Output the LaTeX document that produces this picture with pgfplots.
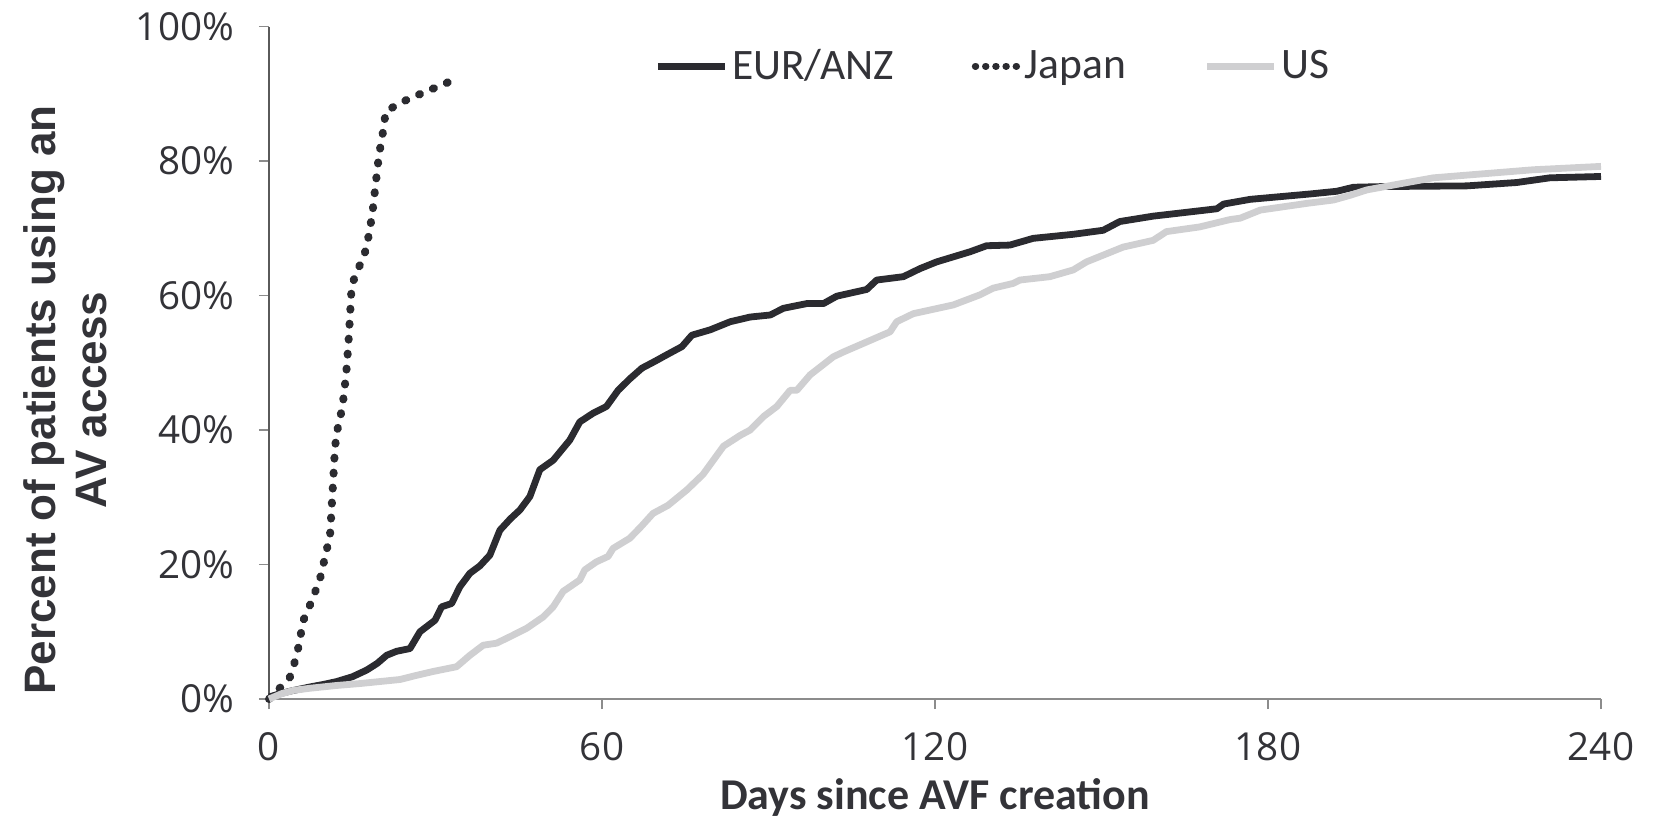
\documentclass[border=0pt]{standalone}
\usepackage{fontspec}
\usepackage{pgfplots}
\pgfplotsset{compat=1.18}
\newfontfamily\tickfont{Open Sans}
\newfontfamily\legfont{Carlito}
\newfontfamily\xlabfont{Carlito}
\newfontfamily\ylabfont{Liberation Sans}
\definecolor{eurcol}{HTML}{2B2B30}
\definecolor{uscol}{HTML}{CFCFD1}
\definecolor{txtcol}{HTML}{333338}
\definecolor{yaxcol}{HTML}{5A5A5A}
\definecolor{xaxcol}{HTML}{8C8C8C}
\begin{document}
\begin{tikzpicture}
\begin{axis}[
  scale only axis,
  width=666pt, height=336.25pt,
  at={(0pt,0pt)}, anchor=south west,
  xmin=0, xmax=240, ymin=0, ymax=100,
  axis x line*=bottom, axis y line*=left,
  x axis line style={color=xaxcol, line width=0.8pt},
  y axis line style={color=yaxcol, line width=0.8pt},
  tick align=outside, major tick length=5pt,
  every tick/.style={color=xaxcol, line width=0.8pt},
  xtick={0,60,120,180,240},
  xticklabels={0,60,120,180,240},
  ytick={0,20,40,60,80,100},
  yticklabels={0\%,20\%,40\%,60\%,80\%,100\%},
  /pgf/number format/assume math mode=true,
  tick label style={font=\tickfont\fontsize{19.3}{21}\selectfont, text=txtcol},
  yticklabel style={xshift=-9pt},
  xticklabel style={yshift=-8pt},
  clip=false,
  xlabel={Days since AVF creation},
  xlabel style={font=\xlabfont\bfseries\fontsize{22}{26}\selectfont, text=txtcol,
    at={(axis description cs:0.5,-0.1636)}, anchor=base},
  ylabel={Percent of patients using an\\AV access},
  ylabel style={font=\ylabfont\bfseries\fontsize{22}{25.5}\selectfont, text=txtcol,
    align=center, at={(axis description cs:-0.153,0.4446)}, anchor=center},
  legend style={at={(axis description cs:0.289,0.941)}, anchor=west, draw=none, fill=none,
    inner sep=0pt, font=\legfont\fontsize{21.75}{24}\selectfont, text=txtcol,
    nodes={inner xsep=2pt, inner ysep=0pt},
    /tikz/every even column/.append style={column sep=37pt}},
  legend columns=-1,
  legend image code/.code={\draw[#1, line cap=butt] (0pt,0pt) -- (33.5pt,0pt);},
]
\addplot[eurcol, line width=3.4pt, line join=round] coordinates {
(0,0.3)(2,0.8)(4,1.2)(7.4,1.8)(10,2.2)(12.2,2.6)(15,3.3)(17.6,4.3)(19.5,5.3)(21.2,6.5)(23,7.1)(25.4,7.5)(27.2,10.0)(29.9,11.7)(31.1,13.7)(32.9,14.2)(34.4,16.7)(36.2,18.7)(38,19.8)(39.8,21.4)(41.6,25.1)(43.5,26.8)(45.2,28.1)(47.0,30.1)(48.8,34.1)(51.2,35.5)(54.2,38.5)(56.0,41.2)(58.4,42.5)(60.8,43.5)(62.9,45.9)(65,47.6)(67.2,49.2)(69.5,50.2)(71.7,51.2)(74.4,52.4)(76.2,54.1)(79.5,54.9)(83.1,56.1)(86.7,56.8)(90.3,57.1)(92.7,58.1)(96.9,58.8)(99.9,58.8)(102.3,59.9)(107.7,60.9)(109.5,62.3)(114.3,62.8)(117.3,64.0)(120.3,65.0)(126.3,66.5)(129.3,67.4)(133.5,67.5)(137.7,68.5)(144.9,69.1)(150.3,69.7)(153.3,71.0)(159.3,71.8)(167.7,72.6)(170.8,72.9)(172.0,73.6)(176.8,74.3)(187.6,75.1)(192.4,75.5)(195.4,76.1)(200.8,76.2)(215.8,76.3)(224.8,76.8)(230.8,77.5)(240,77.7)
};
\addlegendentry{EUR/ANZ}
\addplot[eurcol, line width=4pt, line cap=round, dash pattern=on 0.5pt off 7pt,
  legend image code/.code={\draw[eurcol, line width=3.4pt, line cap=round, dash pattern=on 0.3pt off 4.8pt] (3pt,0pt) -- (24pt,0pt);}] coordinates {
(0,0)(1.8,1.5)(3.7,3.1)(4.5,5.1)(5.2,7.3)(6.2,11.7)(7.3,13.8)(8.3,15.9)(9.2,17.9)(10.4,22.2)(11.0,24.3)(11.3,28.6)(11.6,33.0)(11.9,37.4)(12.2,39.6)(12.8,41.7)(13.3,43.9)(13.9,48.3)(14.3,52.7)(14.6,57.1)(14.9,61.4)(15.8,63.6)(17.0,65.5)(17.7,67.7)(18.6,72.0)(19.2,76.4)(19.8,80.8)(20.7,85.1)(21.0,87.3)(23.1,88.4)(25.6,89.4)(28.0,90.2)(30.5,91.1)(33.4,92.1)
};
\addlegendentry{Japan}
\addplot[uscol, line width=3.4pt, line join=round] coordinates {
(0,0)(2.3,0.8)(4.5,1.3)(7.4,1.6)(12,2.0)(16.4,2.3)(20,2.6)(23.6,2.9)(26.5,3.5)(29.6,4.1)(33.8,4.8)(36.2,6.5)(38.6,8.0)(41.0,8.3)(43.5,9.3)(46.4,10.5)(49.4,12.2)(51.2,13.7)(53.0,16.0)(56.0,17.7)(56.9,19.2)(59.0,20.4)(61.1,21.2)(62.0,22.4)(65.0,23.9)(67,25.6)(69.2,27.6)(71.9,28.8)(75.3,31.1)(78.2,33.4)(81.9,37.6)(84.9,39.2)(86.7,40.0)(89.1,42.0)(91.5,43.5)(93.9,45.9)(95.1,45.9)(97.5,48.2)(101.7,50.9)(103.5,51.6)(107.7,53.1)(111.9,54.6)(113.1,56.1)(116.1,57.3)(123.3,58.6)(128.1,60.1)(130.5,61.1)(134.1,61.8)(135.3,62.3)(140.7,62.8)(144.9,63.8)(147.3,65.0)(153.9,67.2)(159.3,68.2)(161.7,69.5)(167.7,70.2)(173.2,71.3)(175.0,71.5)(178.6,72.7)(187.0,73.7)(191.8,74.2)(194.8,74.9)(197.8,75.7)(204.4,76.7)(209.8,77.5)(218.8,78.1)(227.8,78.7)(240,79.2)
};
\addlegendentry{US}
\end{axis}
\path (-134.5pt,-60pt) rectangle (697pt,349.5pt);
\end{tikzpicture}
\end{document}
